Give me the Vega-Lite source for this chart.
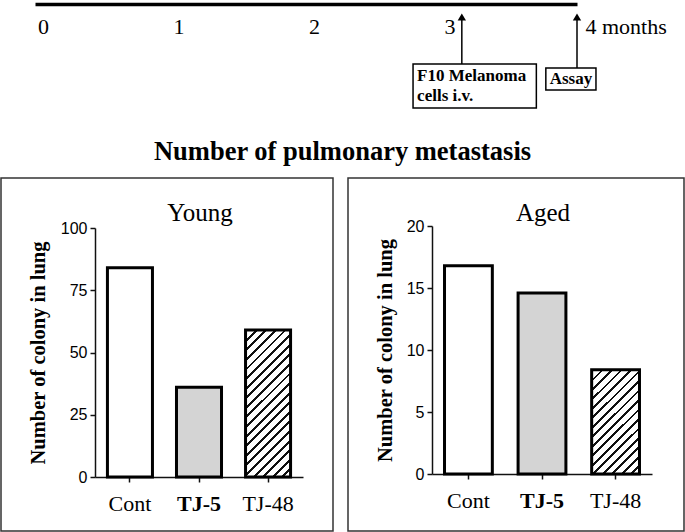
{
  "$schema": "https://vega.github.io/schema/vega-lite/v6.json",
  "padding": 0,
  "bounds": "flush",
  "spacing": 68,
  "config": {
    "view": {"stroke": "#333", "strokeWidth": 1.5},
    "axis": {"grid": false}
  },
  "datasets": {
    "bars": [
      {"panel": "Young", "group": "Cont", "count": 84},
      {"panel": "Young", "group": "TJ-5", "count": 36},
      {"panel": "Young", "group": "TJ-48", "count": 59},
      {"panel": "Aged", "group": "Cont", "count": 16.8},
      {"panel": "Aged", "group": "TJ-5", "count": 14.6},
      {"panel": "Aged", "group": "TJ-48", "count": 8.4}
    ],
    "events": [
      {"event": "F10", "text": "F10 Melanoma\ncells i.v.", "month": 3.15},
      {"event": "Assay", "text": "Assay", "month": 4}
    ]
  },
  "vconcat": [
    {
      "width": 683,
      "height": 110,
      "view": {"stroke": null},
      "title": {"text": "Number of pulmonary metastasis", "orient": "bottom", "anchor": "middle", "frame": "group", "baseline": "top", "offset": 29, "font": "Liberation Serif", "fontSize": 26.5, "fontWeight": "bold", "color": "#000"},
      "data": {"name": "events"},
      "layer": [
        {
          "mark": {"type": "rule", "stroke": "#000", "strokeWidth": 1.5},
          "encoding": {
            "x": {"field": "month", "type": "quantitative",
              "scale": {"domain": [0, 4], "range": [34, 576], "nice": false, "zero": false},
              "axis": {"orient": "bottom", "offset": -106, "values": [0, 1, 2, 3, 4], "title": null,
                "labelExpr": "datum.value == 4 ? '4 months' : format(datum.value, 'd')",
                "labelAlign": {"condition": {"test": "datum.value == 4", "value": "left"}, "value": "center"},
                "labelOffset": 8, "labelFlush": false, "labelBound": false, "labelOverlap": false,
                "ticks": false, "tickSize": 0, "labelPadding": 12, "labelBaseline": "top",
                "domainColor": "#000", "domainWidth": 3.5,
                "labelFont": "Liberation Serif", "labelFontSize": 22, "labelColor": "#000"}},
            "y": {"datum": 16, "type": "quantitative", "scale": {"domain": [0, 110], "range": [0, 110], "nice": false, "zero": false}, "axis": null},
            "y2": {"datum": 68}
          }
        },
        {
          "mark": {"type": "point", "shape": "triangle-up", "filled": true, "color": "#000", "opacity": 1, "size": 70},
          "encoding": {
            "x": {"field": "month", "type": "quantitative"},
            "y": {"datum": 17, "type": "quantitative"}
          }
        },
        {
          "transform": [{"filter": "datum.event === 'F10'"}],
          "mark": {"type": "rect", "fill": "#fff", "stroke": "#000", "strokeWidth": 1.5},
          "encoding": {
            "x": {"datum": 2.79, "type": "quantitative"}, "x2": {"datum": 3.70},
            "y": {"datum": 64, "type": "quantitative"}, "y2": {"datum": 108}
          }
        },
        {
          "transform": [{"filter": "datum.event === 'Assay'"}],
          "mark": {"type": "rect", "fill": "#fff", "stroke": "#000", "strokeWidth": 1.5},
          "encoding": {
            "x": {"datum": 3.77, "type": "quantitative"}, "x2": {"datum": 4.14},
            "y": {"datum": 68, "type": "quantitative"}, "y2": {"datum": 90}
          }
        },
        {
          "transform": [{"filter": "datum.event === 'F10'"}],
          "mark": {"type": "text", "align": "left", "baseline": "top", "lineBreak": "\n", "lineHeight": 20, "font": "Liberation Serif", "fontSize": 17, "fontWeight": "bold", "color": "#000"},
          "encoding": {
            "x": {"datum": 2.82, "type": "quantitative"},
            "y": {"datum": 68, "type": "quantitative"},
            "text": {"field": "text"}
          }
        },
        {
          "transform": [{"filter": "datum.event === 'Assay'"}],
          "mark": {"type": "text", "align": "center", "baseline": "middle", "font": "Liberation Serif", "fontSize": 17, "fontWeight": "bold", "color": "#000"},
          "encoding": {
            "x": {"datum": 3.955, "type": "quantitative"},
            "y": {"datum": 79, "type": "quantitative"},
            "text": {"field": "text"}
          }
        }
      ]
    },
    {
      "hconcat": [
        {
          "width": 332,
          "height": 353,
          "data": {"name": "bars"},
          "transform": [{"filter": "datum.panel === 'Young'"}],
          "title": {"text": "Young", "anchor": "middle", "frame": "group", "orient": "top", "baseline": "middle", "offset": -60, "dx": 33, "font": "Liberation Serif", "fontSize": 25, "fontWeight": "normal", "color": "#000"},
          "mark": {"type": "bar", "stroke": "#000", "strokeWidth": 3},
          "encoding": {
            "x": {"field": "group", "type": "nominal", "sort": ["Cont", "TJ-5", "TJ-48"],
              "scale": {"range": [94, 302], "paddingInner": 0.348, "paddingOuter": 0.18},
              "axis": {"orient": "bottom", "offset": -54, "title": null, "labelAngle": 0, "tickSize": 5, "tickWidth": 1.5, "tickColor": "#111", "domainColor": "#111", "domainWidth": 1.5, "labelPadding": 11, "labelFont": "Liberation Serif", "labelFontSize": 22, "labelColor": "#000",
                "labelFontWeight": {"condition": {"test": "datum.value === 'TJ-5'", "value": "bold"}, "value": "normal"}}},
            "y": {"field": "count", "type": "quantitative",
              "scale": {"domain": [0, 100], "range": [299, 50], "nice": false},
              "axis": {"orient": "left", "offset": -94, "values": [0, 25, 50, 75, 100], "tickSize": 5, "tickWidth": 1.5, "tickColor": "#111", "domainColor": "#111", "domainWidth": 1.5, "labelPadding": 3, "labelFont": "Liberation Sans", "labelFontSize": 16, "labelColor": "#000",
                "title": "Number of colony in lung", "titleFont": "Liberation Serif", "titleFontSize": 20.5, "titleFontWeight": "bold", "titleColor": "#000", "titlePadding": 17, "minExtent": 30, "maxExtent": 30}},
            "fill": {"condition": [
              {"test": "datum.group === 'TJ-5'", "value": "#d4d4d4"},
              {"test": "datum.group === 'TJ-48'", "value": {"gradient": "linear", "x1": 0, "y1": 0, "x2": 0.3656, "y2": 1.1942, "stops": [
                {"offset": 0, "color": "#111"}, {"offset": 0.015, "color": "#111"}, {"offset": 0.015, "color": "#fff"}, {"offset": 0.05, "color": "#fff"},
                {"offset": 0.05, "color": "#111"}, {"offset": 0.065, "color": "#111"}, {"offset": 0.065, "color": "#fff"}, {"offset": 0.1, "color": "#fff"},
                {"offset": 0.1, "color": "#111"}, {"offset": 0.115, "color": "#111"}, {"offset": 0.115, "color": "#fff"}, {"offset": 0.15, "color": "#fff"},
                {"offset": 0.15, "color": "#111"}, {"offset": 0.165, "color": "#111"}, {"offset": 0.165, "color": "#fff"}, {"offset": 0.2, "color": "#fff"},
                {"offset": 0.2, "color": "#111"}, {"offset": 0.215, "color": "#111"}, {"offset": 0.215, "color": "#fff"}, {"offset": 0.25, "color": "#fff"},
                {"offset": 0.25, "color": "#111"}, {"offset": 0.265, "color": "#111"}, {"offset": 0.265, "color": "#fff"}, {"offset": 0.3, "color": "#fff"},
                {"offset": 0.3, "color": "#111"}, {"offset": 0.315, "color": "#111"}, {"offset": 0.315, "color": "#fff"}, {"offset": 0.35, "color": "#fff"},
                {"offset": 0.35, "color": "#111"}, {"offset": 0.365, "color": "#111"}, {"offset": 0.365, "color": "#fff"}, {"offset": 0.4, "color": "#fff"},
                {"offset": 0.4, "color": "#111"}, {"offset": 0.415, "color": "#111"}, {"offset": 0.415, "color": "#fff"}, {"offset": 0.45, "color": "#fff"},
                {"offset": 0.45, "color": "#111"}, {"offset": 0.465, "color": "#111"}, {"offset": 0.465, "color": "#fff"}, {"offset": 0.5, "color": "#fff"},
                {"offset": 0.5, "color": "#111"}, {"offset": 0.515, "color": "#111"}, {"offset": 0.515, "color": "#fff"}, {"offset": 0.55, "color": "#fff"},
                {"offset": 0.55, "color": "#111"}, {"offset": 0.565, "color": "#111"}, {"offset": 0.565, "color": "#fff"}, {"offset": 0.6, "color": "#fff"},
                {"offset": 0.6, "color": "#111"}, {"offset": 0.615, "color": "#111"}, {"offset": 0.615, "color": "#fff"}, {"offset": 0.65, "color": "#fff"},
                {"offset": 0.65, "color": "#111"}, {"offset": 0.665, "color": "#111"}, {"offset": 0.665, "color": "#fff"}, {"offset": 0.7, "color": "#fff"},
                {"offset": 0.7, "color": "#111"}, {"offset": 0.715, "color": "#111"}, {"offset": 0.715, "color": "#fff"}, {"offset": 0.75, "color": "#fff"},
                {"offset": 0.75, "color": "#111"}, {"offset": 0.765, "color": "#111"}, {"offset": 0.765, "color": "#fff"}, {"offset": 0.8, "color": "#fff"},
                {"offset": 0.8, "color": "#111"}, {"offset": 0.815, "color": "#111"}, {"offset": 0.815, "color": "#fff"}, {"offset": 0.85, "color": "#fff"},
                {"offset": 0.85, "color": "#111"}, {"offset": 0.865, "color": "#111"}, {"offset": 0.865, "color": "#fff"}, {"offset": 0.9, "color": "#fff"},
                {"offset": 0.9, "color": "#111"}, {"offset": 0.915, "color": "#111"}, {"offset": 0.915, "color": "#fff"}, {"offset": 0.95, "color": "#fff"},
                {"offset": 0.95, "color": "#111"}, {"offset": 0.965, "color": "#111"}, {"offset": 0.965, "color": "#fff"}, {"offset": 1, "color": "#fff"}
              ]}}
            ], "value": "#fff"}
          }
        },
        {
          "width": 336,
          "height": 353,
          "data": {"name": "bars"},
          "transform": [{"filter": "datum.panel === 'Aged'"}],
          "title": {"text": "Aged", "anchor": "middle", "frame": "group", "orient": "top", "baseline": "middle", "offset": -60, "dx": 27, "font": "Liberation Serif", "fontSize": 25, "fontWeight": "normal", "color": "#000"},
          "mark": {"type": "bar", "stroke": "#000", "strokeWidth": 3},
          "encoding": {
            "x": {"field": "group", "type": "nominal", "sort": ["Cont", "TJ-5", "TJ-48"],
              "scale": {"range": [84, 304], "paddingInner": 0.35, "paddingOuter": 0.17},
              "axis": {"orient": "bottom", "offset": -57, "title": null, "labelAngle": 0, "tickSize": 5, "tickWidth": 1.5, "tickColor": "#111", "domainColor": "#111", "domainWidth": 1.5, "labelPadding": 11, "labelFont": "Liberation Serif", "labelFontSize": 22, "labelColor": "#000",
                "labelFontWeight": {"condition": {"test": "datum.value === 'TJ-5'", "value": "bold"}, "value": "normal"}}},
            "y": {"field": "count", "type": "quantitative",
              "scale": {"domain": [0, 20], "range": [296, 48], "nice": false},
              "axis": {"orient": "left", "offset": -84, "values": [0, 5, 10, 15, 20], "tickSize": 5, "tickWidth": 1.5, "tickColor": "#111", "domainColor": "#111", "domainWidth": 1.5, "labelPadding": 3, "labelFont": "Liberation Sans", "labelFontSize": 16, "labelColor": "#000",
                "title": "Number of colony in lung", "titleFont": "Liberation Serif", "titleFontSize": 20.5, "titleFontWeight": "bold", "titleColor": "#000", "titlePadding": 7, "minExtent": 30, "maxExtent": 30}},
            "fill": {"condition": [
              {"test": "datum.group === 'TJ-5'", "value": "#d4d4d4"},
              {"test": "datum.group === 'TJ-48'", "value": {"gradient": "linear", "x1": 0, "y1": 0, "x2": 0.5528, "y2": 1.2051, "stops": [
                {"offset": 0, "color": "#111"}, {"offset": 0.01875, "color": "#111"}, {"offset": 0.01875, "color": "#fff"}, {"offset": 0.0625, "color": "#fff"},
                {"offset": 0.0625, "color": "#111"}, {"offset": 0.08125, "color": "#111"}, {"offset": 0.08125, "color": "#fff"}, {"offset": 0.125, "color": "#fff"},
                {"offset": 0.125, "color": "#111"}, {"offset": 0.14375, "color": "#111"}, {"offset": 0.14375, "color": "#fff"}, {"offset": 0.1875, "color": "#fff"},
                {"offset": 0.1875, "color": "#111"}, {"offset": 0.20625, "color": "#111"}, {"offset": 0.20625, "color": "#fff"}, {"offset": 0.25, "color": "#fff"},
                {"offset": 0.25, "color": "#111"}, {"offset": 0.26875, "color": "#111"}, {"offset": 0.26875, "color": "#fff"}, {"offset": 0.3125, "color": "#fff"},
                {"offset": 0.3125, "color": "#111"}, {"offset": 0.33125, "color": "#111"}, {"offset": 0.33125, "color": "#fff"}, {"offset": 0.375, "color": "#fff"},
                {"offset": 0.375, "color": "#111"}, {"offset": 0.39375, "color": "#111"}, {"offset": 0.39375, "color": "#fff"}, {"offset": 0.4375, "color": "#fff"},
                {"offset": 0.4375, "color": "#111"}, {"offset": 0.45625, "color": "#111"}, {"offset": 0.45625, "color": "#fff"}, {"offset": 0.5, "color": "#fff"},
                {"offset": 0.5, "color": "#111"}, {"offset": 0.51875, "color": "#111"}, {"offset": 0.51875, "color": "#fff"}, {"offset": 0.5625, "color": "#fff"},
                {"offset": 0.5625, "color": "#111"}, {"offset": 0.58125, "color": "#111"}, {"offset": 0.58125, "color": "#fff"}, {"offset": 0.625, "color": "#fff"},
                {"offset": 0.625, "color": "#111"}, {"offset": 0.64375, "color": "#111"}, {"offset": 0.64375, "color": "#fff"}, {"offset": 0.6875, "color": "#fff"},
                {"offset": 0.6875, "color": "#111"}, {"offset": 0.70625, "color": "#111"}, {"offset": 0.70625, "color": "#fff"}, {"offset": 0.75, "color": "#fff"},
                {"offset": 0.75, "color": "#111"}, {"offset": 0.76875, "color": "#111"}, {"offset": 0.76875, "color": "#fff"}, {"offset": 0.8125, "color": "#fff"},
                {"offset": 0.8125, "color": "#111"}, {"offset": 0.83125, "color": "#111"}, {"offset": 0.83125, "color": "#fff"}, {"offset": 0.875, "color": "#fff"},
                {"offset": 0.875, "color": "#111"}, {"offset": 0.89375, "color": "#111"}, {"offset": 0.89375, "color": "#fff"}, {"offset": 0.9375, "color": "#fff"},
                {"offset": 0.9375, "color": "#111"}, {"offset": 0.95625, "color": "#111"}, {"offset": 0.95625, "color": "#fff"}, {"offset": 1, "color": "#fff"}
              ]}}
            ], "value": "#fff"}
          }
        }
      ],
      "spacing": 15,
      "bounds": "flush"
    }
  ]
}
